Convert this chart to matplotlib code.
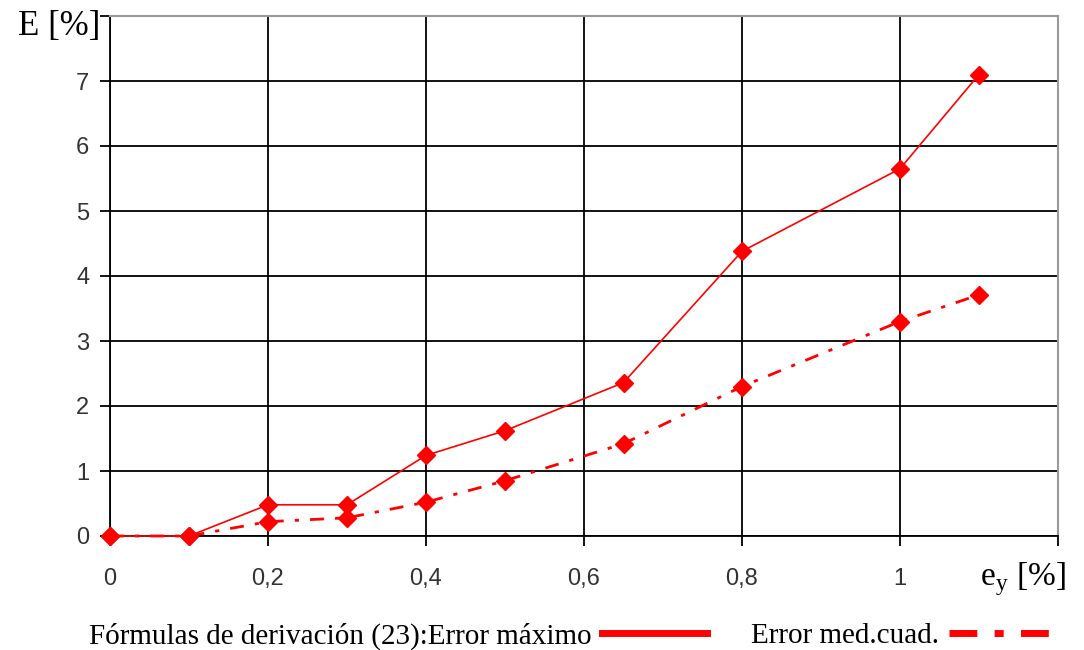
import numpy as np
import matplotlib.pyplot as plt
from matplotlib.lines import Line2D

# data
ey = [0, 0.1, 0.2, 0.3, 0.4, 0.5, 0.65, 0.8, 1.0, 1.1]
err_max = [0, 0, 0.48, 0.48, 1.24, 1.62, 2.36, 4.38, 5.65, 7.1]
err_rms = [0, 0, 0.22, 0.28, 0.52, 0.85, 1.42, 2.30, 3.30, 3.71]

xticks = [0, 0.2, 0.4, 0.6, 0.8, 1.0]
xtick_labels = ["0", "0,2", "0,4", "0,6", "0,8", "1"]
yticks = [0, 1, 2, 3, 4, 5, 6, 7]

serif = "Liberation Serif"
sans = "Liberation Sans"

fig = plt.figure(figsize=(10.84, 6.5), dpi=100)
ax = fig.add_axes([110/1084, 1-536/650, (1058-110)/1084, (536-16)/650])

ax.plot(ey, err_max, color="red", lw=1.2, marker="D", ms=9, clip_on=False, zorder=3)
ax.plot(ey, err_rms, color="red", lw=2.0, ls=(0, (5, 4, 1.5, 4)), marker="D", ms=9,
        clip_on=False, zorder=3)

ax.set_xlim(0, 1.2)
ax.set_ylim(0, 8)
ax.set_xticks(xticks + [1.2])
ax.set_xticklabels(xtick_labels + [""], fontsize=17, family=sans, color="#333333")
ax.set_yticks(yticks + [8])
ax.set_yticklabels([str(v) for v in yticks] + [""], fontsize=17, family=sans, color="#333333")
ax.tick_params(axis="both", length=7, width=1.3, color="black")
ax.tick_params(axis="x", pad=16)
ax.tick_params(axis="y", pad=8)

ax.grid(True, color="black", lw=1.3)
ax.set_axisbelow(True)
for side in ["left", "bottom"]:
    ax.spines[side].set_color("black")
    ax.spines[side].set_linewidth(1.3)
for side in ["top", "right"]:
    ax.spines[side].set_color("#999999")
    ax.spines[side].set_linewidth(1.5)

ax.text(-0.012, 7.84, "E [%]", ha="right", va="center", fontsize=25, family=serif)
ax.text(1.101, -0.66, "e$_\\mathregular{y}$ [%]", ha="left", va="center",
        fontsize=24, family=serif)

handles = [Line2D([], [], color="red", lw=5),
           Line2D([], [], color="red", lw=5, ls=(0, (4, 2.5, 1.3, 2.5)))]
labels = ["Fórmulas de derivación (23):Error máximo", "Error med.cuad."]
fig.legend(handles, labels, loc="lower left", bbox_to_anchor=(0.058, -0.04), ncol=2,
           frameon=False, markerfirst=False, handlelength=3.6, handletextpad=0.35,
           columnspacing=1.5, prop={"family": serif, "size": 21})

fig.savefig("out.png", dpi=100)
